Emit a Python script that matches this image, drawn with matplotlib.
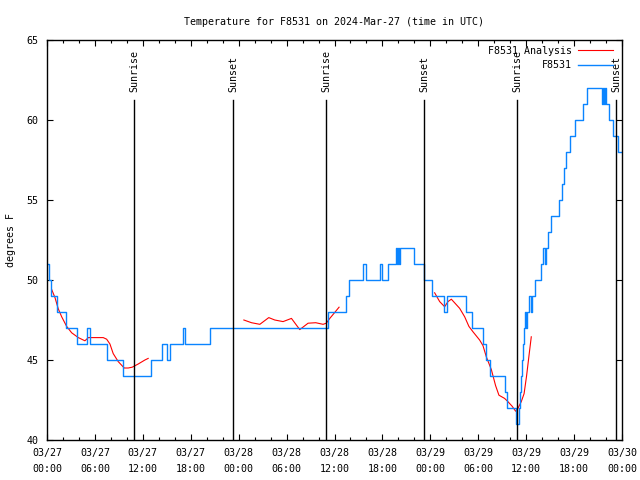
import matplotlib
matplotlib.use("Agg")
import matplotlib.pyplot as plt
import numpy as np

# ---- data (hours since 2024-03-27 00:00 UTC) ----
obs_hours = [0.12, 0.31, 0.56, 1.19, 2.34, 3.79, 5.07, 5.44, 7.54, 9.55, 12.97, 14.43, 15.08,
             15.45, 17.01, 17.33, 20.36, 35.19, 37.41, 37.78, 39.60, 39.91, 41.72, 41.97,
             42.72, 43.73, 43.85, 43.98, 44.10, 44.23, 45.92, 47.23, 48.23, 49.67, 50.04,
             52.42, 53.17, 54.55, 54.92, 55.49, 57.36, 57.61, 58.74, 59.11, 59.24, 59.36,
             59.49, 59.61, 59.74, 59.86, 59.99, 60.11, 60.30, 60.55, 60.68, 61.05, 61.87,
             62.12, 62.30, 62.43, 62.74, 63.05, 64.06, 64.43, 64.68, 64.93, 65.43, 66.06,
             67.06, 67.56, 69.44, 69.56, 69.69, 69.81, 70.00, 70.37, 70.87, 71.44, 71.88]
obs_temps = [51, 50, 49, 48, 47, 46, 47, 46, 45, 44, 45, 46, 45,
             46, 47, 46, 47, 48, 49, 50, 51, 50, 51, 50,
             51, 52, 51, 52, 51, 52, 51, 50, 49, 48, 49,
             48, 47, 46, 45, 44, 43, 42, 41, 42, 43, 44,
             45, 46, 47, 48, 47, 48, 49, 48, 49, 50, 51,
             52, 51, 52, 53, 54, 55, 56, 57, 58, 59, 60,
             61, 62, 61, 62, 61, 62, 61, 60, 59, 58, 58]

ana1_hours = [0.59, 1.00, 1.41, 1.84, 2.46, 3.09, 3.92, 4.75, 5.17, 6.01, 7.04, 7.47, 7.88,
              8.29, 8.92, 9.67, 10.17, 10.67, 11.42, 12.26, 12.67]
ana1_temps = [49.4, 48.9, 48.2, 47.7, 47.1, 46.7, 46.4, 46.2, 46.4, 46.4, 46.4, 46.3, 46.0,
              45.4, 44.9, 44.5, 44.5, 44.55, 44.75, 45.0, 45.1]
ana2_hours = [24.65, 25.61, 26.65, 27.77, 28.52, 29.56, 30.61, 31.65, 32.69, 33.65, 34.57,
              34.97, 35.41, 35.91, 36.57]
ana2_temps = [47.5, 47.33, 47.23, 47.65, 47.5, 47.4, 47.6, 46.9, 47.3, 47.33, 47.23,
              47.3, 47.6, 47.9, 48.3]
ana3_hours = [48.54, 49.17, 49.79, 50.21, 50.63, 51.67, 52.30, 52.83, 53.33, 54.17, 54.59,
              55.01, 55.64, 56.17, 56.59, 57.30, 57.71, 58.26, 58.68, 58.89, 59.39, 59.74,
              60.05, 60.36, 60.64]
ana3_temps = [49.2, 48.65, 48.33, 48.65, 48.8, 48.23, 47.7, 47.1, 46.77, 46.25, 45.9,
              45.2, 44.4, 43.4, 42.8, 42.6, 42.4, 42.1, 41.8, 41.9, 42.4, 42.9,
              44.0, 45.3, 46.45]

event_hours = [10.92, 23.31, 34.97, 47.20, 58.84, 71.27]
event_labels = ["Sunrise", "Sunset", "Sunrise", "Sunset", "Sunrise", "Sunset"]

tick_hours = list(range(0, 73, 6))
tick_labels = ["03/27\n00:00", "03/27\n06:00", "03/27\n12:00", "03/27\n18:00",
               "03/28\n00:00", "03/28\n06:00", "03/28\n12:00", "03/28\n18:00",
               "03/29\n00:00", "03/29\n06:00", "03/29\n12:00", "03/29\n18:00",
               "03/30\n00:00"]

# ---- style ----
plt.rcParams['font.family'] = ['DejaVu Sans Mono']
FS = 7.2
BLUE = '#0a84ff'
RED = '#ff0000'

fig = plt.figure(figsize=(6.4, 4.8), dpi=100)
ax = fig.add_axes([47/640, 40/480, 575/640, 400/480])

ax.plot(ana1_hours, ana1_temps, color=RED, lw=0.8, label='F8531 Analysis')
ax.plot(ana2_hours, ana2_temps, color=RED, lw=0.8)
ax.plot(ana3_hours, ana3_temps, color=RED, lw=0.8)
ax.plot(obs_hours, obs_temps, color=BLUE, lw=1.0, drawstyle='steps-post', label='F8531')

for h, lab in zip(event_hours, event_labels):
    ax.plot([h, h], [40, 61.25], color='black', lw=1.0)
    ax.text(h, 61.75, lab, rotation=90, ha='center', va='bottom', fontsize=FS)

ax.set_xlim(0, 72)
ax.set_ylim(40, 65)
ax.set_xticks(tick_hours)
ax.set_xticklabels(tick_labels, fontsize=FS, linespacing=1.75)
ax.set_xticks(np.arange(0, 73, 2), minor=True)
ax.set_yticks(range(40, 66, 5))
ax.set_yticklabels([str(v) for v in range(40, 66, 5)], fontsize=FS)
ax.tick_params(axis='both', which='major', direction='in', length=4, width=0.8,
               top=True, right=True, pad=6)
ax.tick_params(axis='x', which='minor', direction='in', length=2, width=0.8,
               top=True, bottom=True)
for s in ax.spines.values():
    s.set_linewidth(1.0)

ax.set_title('Temperature for F8531 on 2024-Mar-27 (time in UTC)', fontsize=FS, pad=11)
ax.set_ylabel('degrees F', fontsize=FS)
ax.yaxis.set_label_coords(-31/575, 0.5)

leg = ax.legend(loc='upper right', bbox_to_anchor=(0.995, 1.0), frameon=False,
                markerfirst=False, fontsize=FS, handlelength=3.5,
                labelspacing=0.45, handletextpad=0.6, borderaxespad=0.2)

fig.savefig('out.png', dpi=100)
